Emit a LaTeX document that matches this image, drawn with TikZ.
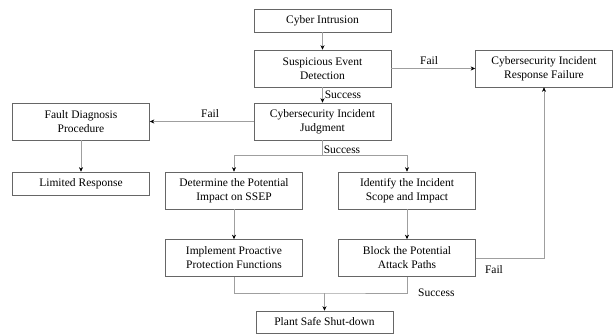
\documentclass[tikz,border=0pt]{standalone}
\usepackage{fontspec}
\setmainfont{Liberation Serif}
\usepackage{tikz}
\usetikzlibrary{arrows.meta,positioning}

\begin{document}
\begin{tikzpicture}[x=1pt, y=-1pt, >={Stealth[length=4.5pt,width=4pt,black]},
    box/.style={draw=gray!80!black, line width=0.6pt, minimum width=137pt,
        align=center, inner sep=2pt, font=\fontsize{11.5}{14}\selectfont},
    tall/.style={box, minimum height=37pt},
    flat/.style={box, minimum height=23pt},
    link/.style={draw=gray!75, line width=0.6pt},
    lbl/.style={font=\fontsize{11.5}{14}\selectfont, inner sep=2pt}]

    \useasboundingbox (0,0) rectangle (614,335);

    % --- main column ---
    \node[flat] (intrusion) at (322.5,20.5) {Cyber Intrusion};
    \node[tall] (detect)    at (322.5,68.5) {Suspicious Event\\Detection};
    \node[tall] (judge)     at (322.5,121.5) {Cybersecurity Incident\\Judgment};
    \node[tall] (failure)   at (544,68.5) {Cybersecurity Incident\\Response Failure};

    % --- fault branch ---
    \node[tall] (fault)   at (81,121.5) {Fault Diagnosis\\Procedure};
    \node[flat] (limited) at (81,183.5) {Limited Response};

    % --- success branches ---
    \node[tall] (impact)  at (234,190.5) {Determine the Potential\\Impact on SSEP};
    \node[tall] (scope)   at (407,190.5) {Identify the Incident\\Scope and Impact};
    \node[tall] (protect) at (234,258) {Implement Proactive\\Protection Functions};
    \node[tall] (block)   at (407,258) {Block the Potential\\Attack Paths};
    \node[flat, minimum height=22pt] (plant) at (324.5,322) {Plant Safe Shut-down};

    \coordinate (split) at (322.5,155);
    \coordinate (merge) at (324.5,293);

    % --- connectors ---
    \draw[link, ->] (intrusion) -- (detect);
    \draw[link, ->] (detect) -- node[lbl, above, pos=0.45, yshift=2pt] {Fail} (failure);
    \draw[link, ->] (detect) -- node[lbl, right] {Success} (judge);
    \draw[link, ->] (judge) -- node[lbl, above, pos=0.42, yshift=2pt] {Fail} (fault);
    \draw[link] (judge) -- (split) node[lbl, above right, inner sep=1pt] {Success};
    \draw[link, ->] (split) -| (impact);
    \draw[link, ->] (split) -| (scope);
    \draw[link, ->] (fault) -- (limited);
    \draw[link, ->] (impact) -- (protect);
    \draw[link, ->] (scope) -- (block);

    \draw[link, ->] (block.east) -| (failure.south);
    \node[lbl, below right=5pt and 7pt of block.east] (faillbl) {Fail};

    \draw[link] (protect.south) |- (merge) -| (block.south);
    \draw[link, ->] (merge) -- (plant);
    \node[lbl, right=9pt of block.south |- merge] (sucslbl) {Success};

\end{tikzpicture}
\end{document}
